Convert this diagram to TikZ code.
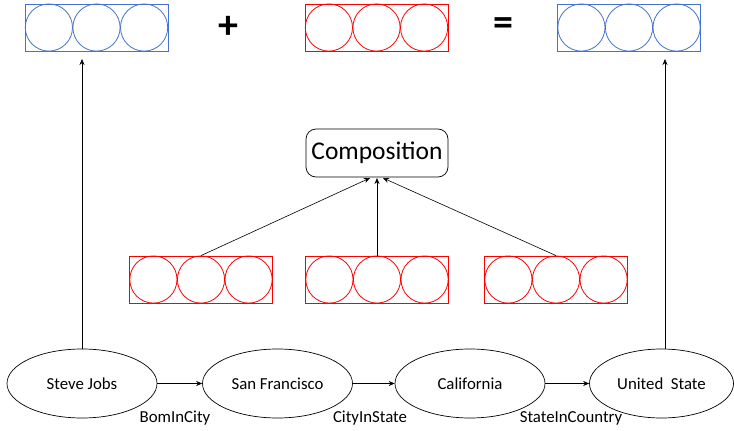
\documentclass[tikz,border=0pt]{standalone}
\usepackage{fontspec}
\setmainfont{Carlito}
\usetikzlibrary{arrows.meta,shapes.geometric,calc}
\definecolor{vecblue}{RGB}{68,114,206}
\definecolor{vecred}{RGB}{255,0,0}
\tikzset{
  vecbox/.style={draw=#1, line width=0.8pt, minimum width=143pt, minimum height=47pt, inner sep=0pt},
  entity/.style={draw, ellipse, line width=0.7pt, minimum width=150pt, minimum height=69pt, inner sep=0pt, font=\fontsize{16.8}{19}\selectfont},
  rel/.style={font=\fontsize{16.8}{19}\selectfont},
  op/.style={font=\bfseries\fontsize{40}{40}\selectfont},
  arr/.style={-{Stealth[length=6pt,width=5pt]}, line width=0.6pt},
}
% a three-cell vector: box plus three circles
\newcommand\vecthree[3]{%
  \node[vecbox=#3] (#1) at #2 {};
  \foreach \k in {-1,0,1}
    \draw[#3, line width=0.8pt] ($(#1.center)+(\k*47.6,0)$) circle (23.6pt);
}
\begin{document}
\begin{tikzpicture}[x=1pt,y=-1pt]
\useasboundingbox (0,0) rectangle (734,431);

% top row: vector + vector = vector
\vecthree{top1}{(96.5,27.5)}{vecblue}
\vecthree{top2}{(376.5,27.5)}{vecred}
\vecthree{top3}{(629,27.5)}{vecblue}
\node[op] (plus) at (228,27) {+};
\node[op] (eq) at (503,27) {=};

% composition
\node[draw, rounded corners=10pt, line width=0.7pt, minimum width=142pt, minimum height=48pt,
      font=\fontsize{25.5}{28}\selectfont] (comp) at (377,153) {Composition};

% relation vectors
\vecthree{r1}{(201,279.5)}{vecred}
\vecthree{r2}{(377,279.5)}{vecred}
\vecthree{r3}{(556,279.5)}{vecred}

\coordinate (c1) at (370,178);
\coordinate (c2) at (377,178);
\coordinate (c3) at (383,178);
\draw[arr] (r1.north) -- (c1);
\draw[arr] (r2.north) -- (c2);
\draw[arr] (r3.north) -- (c3);

% entity chain
\node[entity] (e1) at (82,383.5) {Steve Jobs};
\node[entity] (e2) at (277.5,383.5) {San Francisco};
\node[entity] (e3) at (470,383.5) {California};
\node[entity, minimum width=144pt] (e4) at (661.5,383.5) {United\ \ State};

\draw[arr] (e1) -- (e2);
\draw[arr] (e2) -- (e3);
\draw[arr] (e3) -- (e4);

\node[rel] (l1) at (175,418) {BomInCity};
\node[rel] (l2) at (370,418) {CityInState};
\node[rel] (l3) at (571,418) {StateInCountry};

% entity vectors
\coordinate (t1) at (82,59);
\coordinate (t4) at (665,59);
\draw[arr] (e1.north) -- (t1);
\draw[arr] (e4.north -| t4) -- (t4);
\end{tikzpicture}
\end{document}
